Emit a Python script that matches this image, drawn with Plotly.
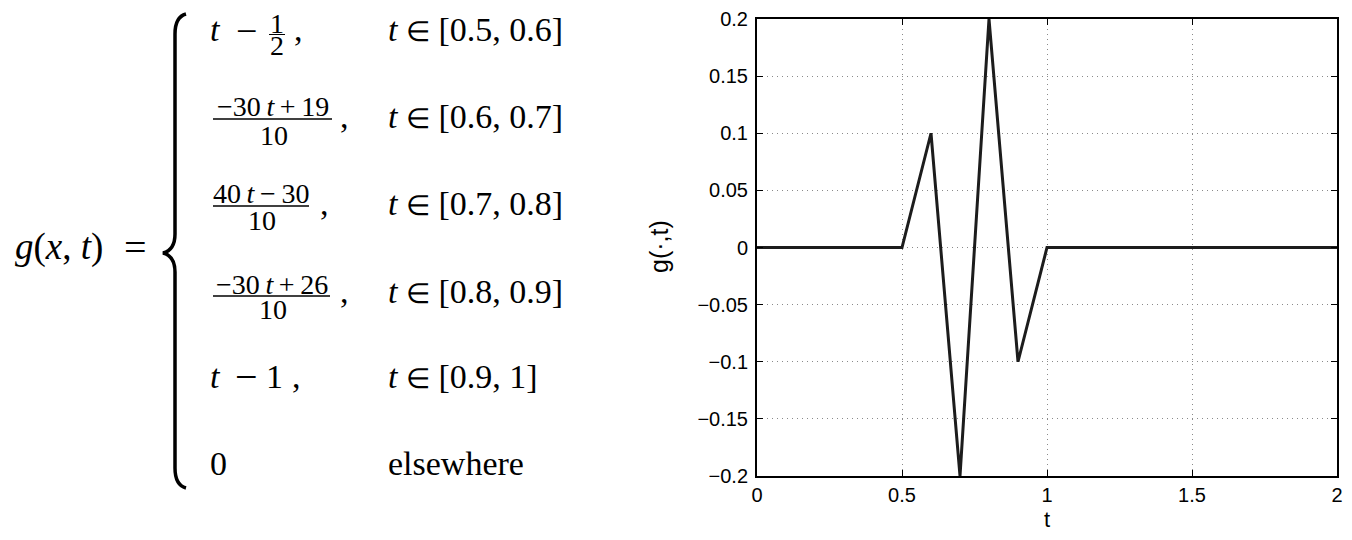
import plotly.graph_objects as go

# page body has an 8px margin: the figure is drawn 8px in from the window edge
OFF = 8
W, H = 1352 - 2 * OFF, 540 - 2 * OFF

# ---- data ----
t_vals = [0.0, 0.5, 0.6, 0.7, 0.8, 0.9, 1.0, 2.0]
g_vals = [0.0, 0.0, 0.1, -0.2, 0.2, -0.1, 0.0, 0.0]
x_tickvals = [0, 0.5, 1, 1.5, 2]
x_ticktext = ["0", "0.5", "1", "1.5", "2"]
y_tickvals = [0.2, 0.15, 0.1, 0.05, 0, -0.05, -0.1, -0.15, -0.2]
y_ticktext = ["0.2", "0.15", "0.1", "0.05", "0", "\u22120.05", "\u22120.1", "\u22120.15", "\u22120.2"]

# formula text
TS = "\u2009"  # thin space
EL = "<span style=\"font-size:28px\">\u2208</span>"
lhs_text = "<i>g</i>(<i>x</i>, <i>t</i>)"
row_exprs = ["1", "\u221230" + TS + "<i>t</i>" + TS + "+" + TS + "19",
             "40" + TS + "<i>t</i>" + TS + "\u2212" + TS + "30",
             "\u221230" + TS + "<i>t</i>" + TS + "+" + TS + "26", "1", "0"]
row_conds = ["<i>t</i> " + EL + " [0.5, 0.6]", "<i>t</i> " + EL + " [0.6, 0.7]",
             "<i>t</i> " + EL + " [0.7, 0.8]", "<i>t</i> " + EL + " [0.8, 0.9]",
             "<i>t</i> " + EL + " [0.9, 1]", "elsewhere"]


def X(px):
    return (px - OFF) / W


def Y(py):
    return 1 - (py - OFF) / H


SERIF = "Liberation Serif"
SANS = "Liberation Sans"
MAIN = 34
SMALL = 28

fig = go.Figure()
fig.add_trace(go.Scatter(x=t_vals, y=g_vals, mode="lines",
                         line=dict(color="#1c1c1c", width=3), hoverinfo="skip"))

ann = []
shapes = []


def txt(px, py, s, size=MAIN, xanchor="left", family=SERIF, angle=0):
    ann.append(dict(x=X(px), y=Y(py), xref="paper", yref="paper", text=s, showarrow=False,
                    xanchor=xanchor, yanchor="middle", textangle=angle, borderpad=0,
                    font=dict(family=family, size=size, color="black")))


def bar(x0, x1, py, w=1.5):
    shapes.append(dict(type="line", xref="paper", yref="paper", x0=X(x0), x1=X(x1),
                       y0=Y(py), y1=Y(py), line=dict(color="black", width=w)))


# left-hand side  g(x, t) =
LM = 247
txt(14, LM, lhs_text, size=37)
txt(135, LM, "=", size=40, xanchor="center")

# brace
pts = [(186, 14), (175, 17), (175, 34), (175, 234), (175, 250), (163, 253),
       (175, 256), (175, 272), (175, 468), (175, 485), (186, 488)]
p = "M {} {} Q {} {} {} {} L {} {} Q {} {} {} {} Q {} {} {} {} L {} {} Q {} {} {} {}".format(
    *[v for (a, b) in pts for v in (X(a), Y(b))])
shapes.append(dict(type="path", xref="paper", yref="paper", path=p,
                   line=dict(color="black", width=3.5)))

mids = [29.5, 116.5, 203.5, 291.5, 376.5, 463.5]

# row 1: t - 1/2 ,
txt(209, mids[0], "<i>t</i>")
txt(246.5, mids[0] + 1, "\u2212", size=38, xanchor="center")
txt(276.5, 23.5, row_exprs[0], size=SMALL, xanchor="center")
bar(269, 285, 34.5, w=1)
txt(276.5, 46, "2", size=SMALL, xanchor="center")
txt(293, mids[0], ",")

# rows 2-4: fractions
fr = [  # (numerator y, bar y, denominator y, x0, x1, comma x)
    (106, 119, 135, 213, 332, 339),
    (193.5, 206, 220.5, 213, 309, 319),
    (284.5, 296, 309.5, 213, 330, 339),
]
for i, (ny, by, dy, x0, x1, cx) in enumerate(fr):
    c = (x0 + x1) / 2
    txt(c, ny, row_exprs[i + 1], size=SMALL, xanchor="center")
    bar(x0, x1, by)
    txt(c + 1, dy, "10", size=SMALL, xanchor="center")
    txt(cx, mids[i + 1], ",")

# row 5: t - 1 ,
txt(209, mids[4], "<i>t</i>")
txt(246.5, mids[4], "\u2212", size=40, xanchor="center")
txt(274, mids[4], row_exprs[4], xanchor="center")
txt(291, mids[4], ",")

# row 6
txt(209, mids[5], row_exprs[5])

# conditions
for i, s in enumerate(row_conds):
    txt(387, mids[i], s)

# axis titles
txt(659, 247, "g(\u00b7,t)", size=25, xanchor="center", family=SANS, angle=-90)
txt(1047, 519.5, "t", size=22, xanchor="center", family=SANS)

axis_common = dict(showline=True, linecolor="black", linewidth=2, mirror="ticks",
                   ticks="inside", ticklen=6, tickwidth=1, tickcolor="black",
                   showgrid=True, gridcolor="#8a8a8a", gridwidth=1, griddash="1px,4px",
                   zeroline=False, tickfont=dict(family=SANS, size=20, color="black"),
                   automargin=False)

fig.update_layout(
    template="none",
    width=W, height=H, autosize=False,
    margin=dict(l=0, r=0, t=0, b=0, pad=0, autoexpand=False),
    paper_bgcolor="white", plot_bgcolor="white", showlegend=False,
    xaxis=dict(domain=[X(757), X(1337)], range=[0, 2], tickmode="array",
               tickvals=x_tickvals, ticktext=x_ticktext, ticklabelstandoff=0, **axis_common),
    yaxis=dict(domain=[Y(476), Y(19)], range=[-0.2, 0.2], tickmode="array",
               tickvals=y_tickvals, ticktext=y_ticktext, ticklabelstandoff=3, **axis_common),
    annotations=ann, shapes=shapes,
)

fig.write_html("out.html")
